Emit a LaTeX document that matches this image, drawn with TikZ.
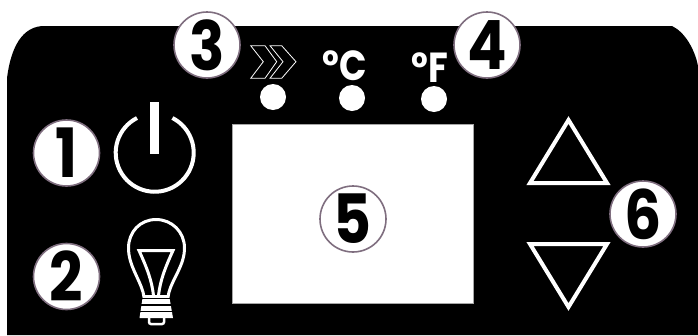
\documentclass[tikz,border=0pt]{standalone}
\usepackage{fontspec}
\setmainfont{Poppins}[FakeStretch=.86]
\definecolor{ringc}{HTML}{7F6E7F}
\tikzset{
 x=1pt,y=-1pt,
 badge/.style={circle,draw=ringc,line width=1.6pt,fill=white,minimum size=66pt,inner sep=0pt,text=black,font=\fontsize{68}{68}\selectfont\bfseries},
 icon/.style={draw=white,line width=4pt},
 led/.style={circle,fill=white,minimum size=26pt,inner sep=0pt},
 unit/.style={text=white,inner sep=0pt,font=\fontsize{42}{42}\selectfont\bfseries},
 chev/.style={draw=white,line width=.8pt,line join=miter}
}
\begin{document}
\begin{tikzpicture}
\useasboundingbox (0,0) rectangle (698,335);
\fill[black] (7,335) -- (7,78) .. controls (10,55) and (18,28) .. (42,26) -- (672,26) .. controls (685,32) and (695,50) .. (698,66) -- (698,335) -- cycle;
% display
\node[draw=gray!70,line width=.6pt,fill=white,minimum width=241pt,minimum height=179pt,inner sep=0pt] (disp) at (352.5,214) {};
% leds
\node[led] (l1) at (273,97) {};
\node[led] (l2) at (352,98) {};
\node[led] (l3) at (434,99) {};
% labels
\node[unit,anchor=base] (tc) at (345,80) {°C};
\node[unit,anchor=base] (tf) at (430,82) {°F};
% chevrons
\draw[chev] (250.7,45.7) -- (265,45.7) -- (276.7,61.7) -- (265,78.3) -- (250.7,78.3) -- (263.3,61.7) -- cycle;
\draw[chev] (270,45.7) -- (281.7,45.7) -- (296,61.7) -- (281.7,78.3) -- (270,78.3) -- (283,61.7) -- cycle;
% power
\draw[white,line width=4pt] (137,118) arc[start angle=-117,end angle=-423,radius=39];
\fill[white] (150,102) rectangle (158.5,154);
% bulb
\draw[white,line width=3pt,line join=round] (144,297) -- (143,292) .. controls (139,278) and (128.5,265) .. (128.5,248) .. controls (128.5,232) and (140,219.5) .. (156,219.5) .. controls (172,219.5) and (184.5,232) .. (184.5,248) .. controls (184.5,265) and (173,278) .. (169,292) -- (168,297);
\draw[white,line width=3pt,line join=miter] (153.5,296) .. controls (152,280) and (146,266) .. (139,250.5) -- (173,250.5) .. controls (166,266) and (160,280) .. (158.5,296);
\fill[white] (143,295) -- (169,295) -- (173,318) -- (139.5,318) -- cycle;
\fill[black] (139,297.5) rectangle (173,299);
\fill[black] (139,304) rectangle (173,305.5);
\fill[black] (139,310.5) rectangle (173,312);
\draw[white,line width=2.5pt,rounded corners=2pt] (149,317) -- (149,324) -- (164,324) -- (164,317);
% triangles
\draw[icon,line join=miter] (568.5,120) -- (607,183) -- (530,183) -- cycle;
\draw[icon,line join=miter] (568.5,307) -- (607,244) -- (530,244) -- cycle;
% badges
\node[badge] (b1) at (66.5,153) {1};
\node[badge] (b2) at (66.5,276.5) {2};
\node[badge] (b3) at (207,45) {3};
\node[badge] (b4) at (487,45) {4};
\node[badge] (b5) at (353,219) {5};
\node[badge] (b6) at (643,214) {6};
\end{tikzpicture}
\end{document}
